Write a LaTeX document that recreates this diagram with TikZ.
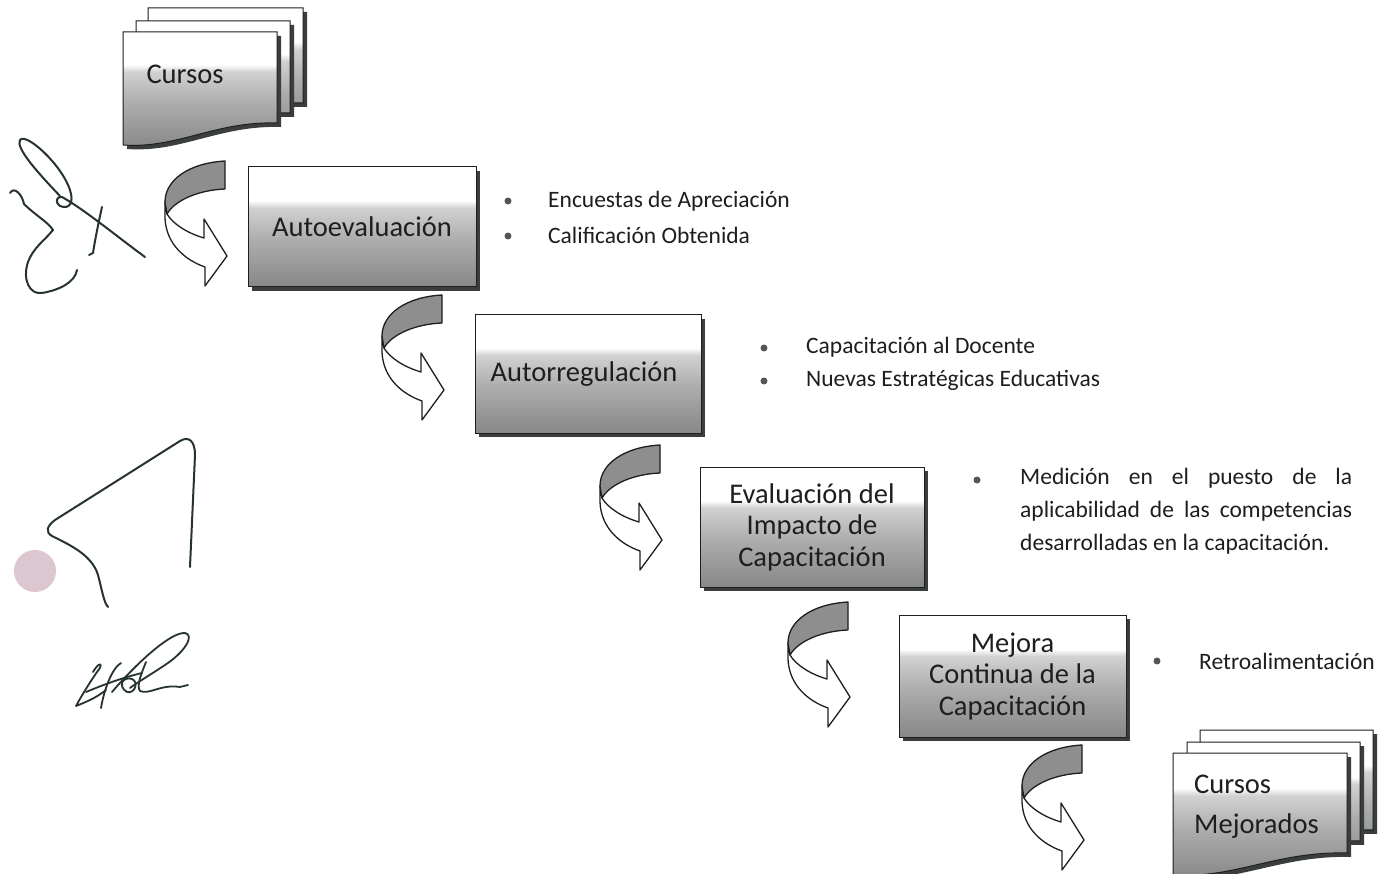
\documentclass[tikz,border=0pt]{standalone}
\usepackage{fontspec}
\setmainfont{Carlito}
\usetikzlibrary{shadows}
\definecolor{ink}{HTML}{1E1E1E}
\definecolor{shad}{HTML}{3A3F3D}
\definecolor{sig}{HTML}{26332F}
\definecolor{bandgray}{HTML}{8E8E8E}
\definecolor{dotgray}{HTML}{555555}
\definecolor{pinkdot}{HTML}{DCC6CF}
\pgfdeclareverticalshading{boxgrad}{100bp}{color(0bp)=(black!47); color(25bp)=(black!47); color(45bp)=(black!32); color(58bp)=(black!18); color(61bp)=(white); color(100bp)=(white)}
\newcommand\pagepath[4]{(#1,#2) -- (#1+#3,#2) -- (#1+#3,#2+#4-22) .. controls (#1+0.6*#3,#2+#4-24) and (#1+0.35*#3,#2+#4+4) .. (#1,#2+#4) -- cycle}
\newcommand\docpage[4]{%
  \fill[shad] \pagepath{#1+4}{#2+4}{#3}{#4};
  \shade[shading=boxgrad, draw=ink, line width=1pt] \pagepath{#1}{#2}{#3}{#4};}
\newcommand\twistarrow[1]{%
  \begin{scope}[shift={#1}]
    \filldraw[arrowline, fill=white] (12,46) -- (12,62) .. controls (13,88) and (32,104) .. (52,111) -- (52,130) -- (74,100) -- (51,63) -- (51,82) .. controls (34,77) and (20,68) .. (14,58) -- cycle;
    \filldraw[arrowline, fill=bandgray] (72,5) .. controls (36,7) and (12,24) .. (12,46) -- (14,58) .. controls (22,44) and (46,34) .. (72,33) -- cycle;
  \end{scope}}
\tikzset{
  arrowline/.style={draw=ink, line width=1.3pt, line join=round},
  procbox/.style={draw=ink, line width=1pt, shade, shading=boxgrad, text=ink,
    font=\fontsize{28.5}{31.5}\selectfont, align=center, inner sep=0pt,
    drop shadow={shadow xshift=4pt, shadow yshift=-4pt, fill=shad, opacity=1}},
  bullettext/.style={anchor=west, inner sep=0pt, text=ink, font=\fontsize{23.5}{33}\selectfont},
  bulletdot/.style={circle, fill=dotgray, inner sep=0pt, minimum size=7pt},
  doctext/.style={text=ink, font=\fontsize{28.5}{40}\selectfont, inner sep=0pt},
  sigline/.style={draw=sig, line width=2pt, line cap=round, line join=round}
}
\begin{document}
\begin{tikzpicture}[x=1pt,y=-1pt]
\useasboundingbox (0,0) rectangle (1384,874);
\fill[white] (0,0) rectangle (1384,874);

% Cursos stack
\docpage{148}{8}{155}{117}
\docpage{136}{21}{154}{114}
\docpage{123}{32}{154}{113}
\node[doctext] (cursos) at (185,74) {Cursos};

% Cursos Mejorados stack
\docpage{1200}{730}{173}{122}
\docpage{1187}{742}{173}{121}
\docpage{1173}{753}{174}{122}
\node[doctext, anchor=west, align=left] (mejorados) at (1194,807) {Cursos\\Mejorados};

% Process boxes
\node[procbox, minimum width=228pt, minimum height=120pt] (b1) at (362,227) {Autoevaluación};
\node[procbox, minimum width=226pt, minimum height=118pt] (b2) at (588,374) {\hspace*{-8pt}Autorregulación};
\node[procbox, minimum width=224pt, minimum height=120pt] (b3) at (812,527) {Evaluación del\\Impacto de\\Capacitación};
\node[procbox, minimum width=227pt, minimum height=122pt] (b4) at (1012.5,676) {Mejora\\Continua de la\\Capacitación};

% Twisted arrows
\twistarrow{(153,156)}
\twistarrow{(370,290)}
\twistarrow{(588,440)}
\twistarrow{(776,597)}
\twistarrow{(1010,740)}

% Bullets
\node[bulletdot] (d11) at (508,201) {};
\node[bullettext] (t11) at (548,201) {Encuestas de Apreciación};
\node[bulletdot] (d12) at (508,236) {};
\node[bullettext] (t12) at (548,235) {Calificación Obtenida};

\node[bulletdot] (d21) at (764,348) {};
\node[bullettext] (t21) at (806,347) {Capacitación al Docente};
\node[bulletdot] (d22) at (764,381) {};
\node[bullettext] (t22) at (806,380) {Nuevas Estratégicas Educativas};

\node[bulletdot] (d31) at (977,480) {};
\node[bullettext, anchor=north west, text width=332pt, align=justify] (t31) at (1020,468)
  {Medición en el puesto de la\linebreak aplicabilidad de las competencias\linebreak desarrolladas en la capacitación.};

\node[bulletdot] (d41) at (1157,661) {};
\node[bullettext] (t41) at (1199,661) {Retroalimentación};

% Signatures
\draw[sigline] (60,196) .. controls (40,175) and (15,148) .. (20,140) .. controls (26,132) and (62,165) .. (70,190) .. controls (74,202) and (70,210) .. (60,206) .. controls (55,203) and (56,196) .. (62,197) .. controls (85,210) and (115,235) .. (145,257);
\draw[sigline] (10,193) .. controls (14,186) and (22,194) .. (24,204) .. controls (35,215) and (48,222) .. (53,230) .. controls (45,240) and (33,248) .. (28,262) .. controls (22,280) and (30,295) .. (42,293) .. controls (60,290) and (75,282) .. (77,270);
\draw[sigline] (102,207) .. controls (98,225) and (95,240) .. (93,253) -- (89,255);

\fill[pinkdot] (35,571) circle (21);
\draw[sigline] (108,607) .. controls (104,603) and (102,590) .. (98,575) .. controls (92,555) and (70,545) .. (52,536) .. controls (45,532) and (47,526) .. (55,520) -- (180,441) .. controls (188,436) and (195,440) .. (195,455) -- (190,567);

\draw[sigline, line width=1.8pt] (93,672) .. controls (100,660) and (104,664) .. (97,672) .. controls (90,682) and (82,695) .. (76,706) .. controls (86,702) and (96,698) .. (106,690);
\draw[sigline, line width=1.8pt] (121,663) .. controls (112,668) and (104,690) .. (101,708);
\draw[sigline, line width=1.8pt] (86,692) .. controls (105,684) and (125,677) .. (142,673);
\draw[sigline, line width=1.8pt] (127,692) .. controls (117,686) and (123,676) .. (132,679) .. controls (139,682) and (135,694) .. (127,692);
\draw[sigline, line width=1.8pt] (112,692) .. controls (135,665) and (170,632) .. (185,633) .. controls (195,635) and (185,652) .. (165,665) .. controls (150,675) and (138,682) .. (130,688);
\draw[sigline, line width=1.8pt] (146,662) .. controls (142,672) and (136,686) .. (140,691) .. controls (150,695) and (160,684) .. (180,687) -- (188,685);
\end{tikzpicture}
\end{document}
